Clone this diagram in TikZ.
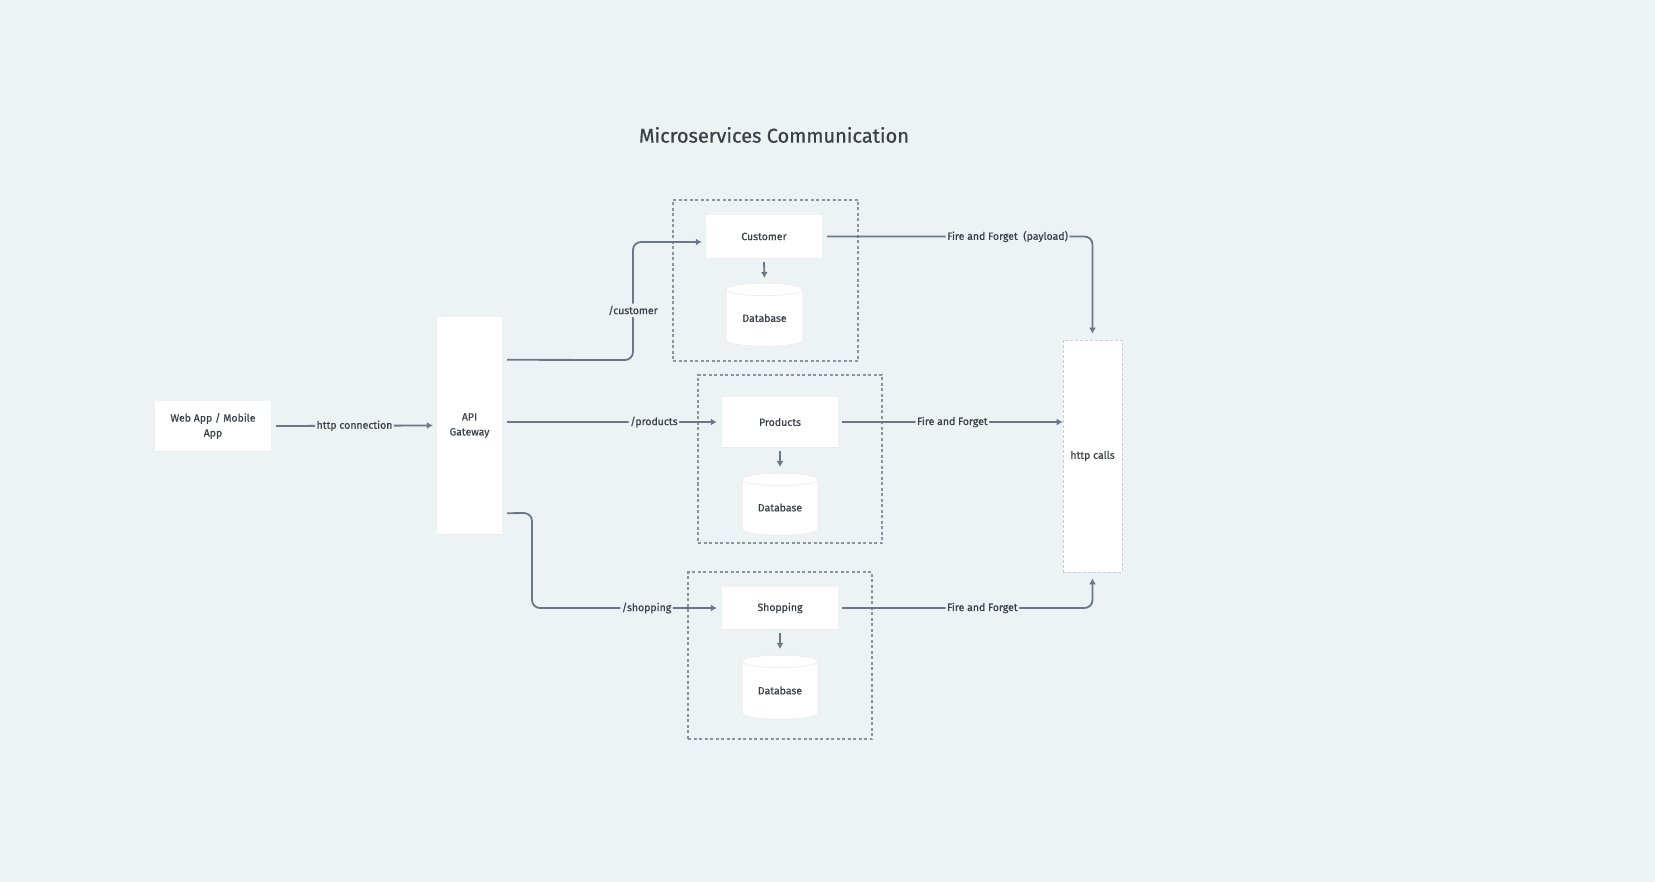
\documentclass[tikz,border=0pt]{standalone}
\usepackage{fontspec}
\setmainfont{Fira Sans}[FakeBold=0.6]
\usetikzlibrary{arrows.meta,shapes.geometric,shadows}

\definecolor{bgcol}{HTML}{EDF2F5}
\definecolor{linecol}{HTML}{6C7686}
\definecolor{txtcol}{HTML}{3B4048}
\definecolor{grpcol}{HTML}{8D939A}
\definecolor{callcol}{HTML}{C5CBD1}

\begin{document}
\begin{tikzpicture}[x=1pt,y=-1pt]
\tikzstyle{every node}+=[inner sep=0pt,text=txtcol,font=\fontsize{10.5}{15}\selectfont]
\tikzstyle{svc}=[fill=white,align=center,drop shadow={shadow xshift=0pt,shadow yshift=-1pt,opacity=0.06}]
\tikzstyle{dbase}=[cylinder,shape border rotate=90,aspect=0.28,fill=white,draw=black!8,line width=0.6pt]
\tikzstyle{grp}=[draw=grpcol,line width=1.3pt,dash pattern=on 3pt off 2.5pt]
\tikzstyle{flow}=[draw=linecol,line width=1.8pt,rounded corners=8pt,-{Latex[length=6pt,width=7pt]}]
\tikzstyle{lbl}=[fill=bgcol,inner xsep=1.5pt,inner ysep=2pt]

\useasboundingbox (0,0) rectangle (1655,882);
\fill [bgcol] (0,0) rectangle (1655,882);

\node (title) at (774,135) {\fontsize{20}{24}\selectfont Microservices Communication};

% service groups
\node [grp,minimum width=185,minimum height=161] (gcust) at (765.5,280.5) {};
\node [grp,minimum width=184,minimum height=168] (gprod) at (790,459) {};
\node [grp,minimum width=184,minimum height=167] (gshop) at (780,655.5) {};

\node [svc,minimum width=116,minimum height=50] (web) at (213,426) {Web App / Mobile\\App};
\node [svc,minimum width=65,minimum height=217] (api) at (469.5,425.5) {API\\Gateway};

\node [svc,minimum width=116,minimum height=43] (cust) at (764,236.5) {Customer};
\node [dbase,minimum width=77,minimum height=63] (db1) at (764.5,318) {Database};

\node [svc,minimum width=116,minimum height=50] (prod) at (780,422) {Products};
\node [dbase,minimum width=76,minimum height=62] (db2) at (780,507.5) {Database};

\node [svc,minimum width=116,minimum height=42] (shop) at (780,608) {Shopping};
\node [dbase,minimum width=76,minimum height=64] (db3) at (780,690.5) {Database};

\node [fill=white,draw=callcol,line width=0.8pt,dash pattern=on 3pt off 2pt,
  minimum width=59,minimum height=232] (http) at (1092.5,456) {http calls};

\coordinate (apicust) at ([xshift=5pt,yshift=-43pt]api.north east);
\coordinate (apishop) at ([xshift=5pt,yshift=21pt]api.south east);

\draw [flow] ([xshift=5pt]web.east) -- node [lbl] {http connection} ([xshift=-4pt]api.west);

\draw [flow] (apicust) -- (633,360) -- node [lbl,pos=0.42] {/customer} (633,242)
  -- ([xshift=-4pt]cust.west |- 0,242);
\draw [flow] ([xshift=5pt]api.east |- prod) -- node [lbl,pos=0.7] {/products} ([xshift=-5pt]prod.west);
\draw [flow] (apishop) -- (532,513) -- (532,608) -- node [lbl,pos=0.62] {/shopping} ([xshift=-5pt]shop.west);

\draw [flow] (cust.south) ++(0,4) -- ([yshift=5pt]db1.north);
\draw [flow] (prod.south) ++(0,4) -- ([yshift=6pt]db2.north);
\draw [flow] (shop.south) ++(0,4) -- ([yshift=6pt]db3.north);

\draw [flow] ([xshift=5pt]cust.east) -- node [lbl,pos=0.68] {Fire and Forget\ \ (payload)} (cust -| http)
  -- ([yshift=6pt]http.north);
\draw [flow] ([xshift=4pt]prod.east) -- node [lbl,pos=0.5] {Fire and Forget} (http.west |- prod);
\draw [flow] ([xshift=4pt]shop.east) -- node [lbl,pos=0.56] {Fire and Forget} (shop -| http)
  -- ([yshift=-6pt]http.south);
\end{tikzpicture}
\end{document}
